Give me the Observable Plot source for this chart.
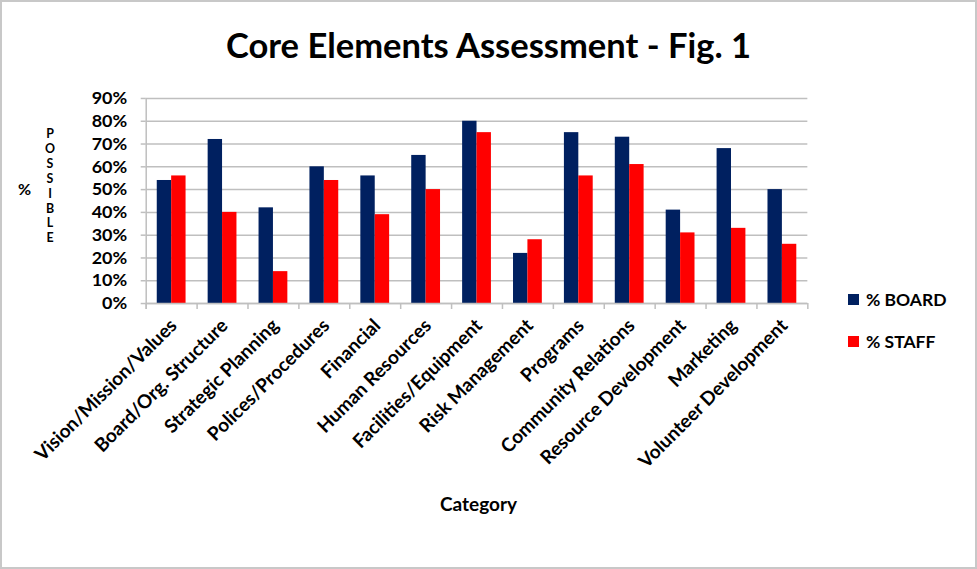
<!DOCTYPE html>
<html>
<head>
<meta charset="utf-8">
<script src="https://cdn.jsdelivr.net/npm/d3@7"></script>
<script src="https://cdn.jsdelivr.net/npm/@observablehq/plot@0.6"></script>
<style>
  html, body { margin: 0; padding: 0; background: #fff; }
  #chart { position: relative; width: 977px; height: 569px; box-sizing: border-box; border: 2px solid #c8c8c8; overflow: hidden; font-family: Lato, "Open Sans", sans-serif; font-weight: bold; color: #000; }
  #title { position: absolute; left: 0; top: 21px; width: 973px; text-align: center; font-size: 34.5px; line-height: 44px; }
  #plot { position: absolute; left: -2px; top: 78px; }
  .ylab { position: absolute; font-size: 16px; }
  #pct { left: 16px; top: 177px; }
  #possible { left: 41px; top: 125px; width: 14px; text-align: center; line-height: 14.9px; font-size: 12.4px; }
  #xlab { position: absolute; left: 0; width: 953px; top: 490px; text-align: center; font-size: 19px; }
  .leg { position: absolute; left: 846px; font-size: 17.5px; line-height: 20px; white-space: nowrap; }
  .leg span.sw { display: inline-block; width: 11px; height: 11px; margin-right: 7px; vertical-align: 1px; }
</style>
</head>
<body>
<div id="chart">
  <div id="title">Core Elements Assessment - Fig. 1</div>
  <div id="pct" class="ylab">%</div>
  <div id="possible" class="ylab">P<br>O<br>S<br>S<br>I<br>B<br>L<br>E</div>
  <div id="plot"></div>
  <div id="xlab">Category</div>
  <div class="leg" style="top:288px"><span class="sw" style="background:#002060"></span>% BOARD</div>
  <div class="leg" style="top:330px"><span class="sw" style="background:#ff0000"></span>% STAFF</div>
</div>
<script>
const categories = ["Vision/Mission/Values", "Board/Org. Structure", "Strategic Planning", "Polices/Procedures", "Financial", "Human Resources", "Facilities/Equipment", "Risk Management", "Programs", "Community Relations", "Resource Development", "Marketing", "Volunteer Development"];
const board = [0.54, 0.72, 0.42, 0.60, 0.56, 0.65, 0.80, 0.22, 0.75, 0.73, 0.41, 0.68, 0.50];
const staff = [0.56, 0.40, 0.14, 0.54, 0.39, 0.50, 0.75, 0.28, 0.56, 0.61, 0.31, 0.33, 0.26];
const series = ["% BOARD", "% STAFF"];
const colors = ["#002060", "#ff0000"];
const yTicks = [0, 0.1, 0.2, 0.3, 0.4, 0.5, 0.6, 0.7, 0.8, 0.9];

const rowsBoard = categories.map((c, i) => ({category: c, series: series[0], value: board[i]}));
const rowsStaff = categories.map((c, i) => ({category: c, series: series[1], value: staff[i]}));

const W = 977, H = 460, mL = 146, mR = 168, mT = 18, mB = 236.5;
const bw = (W - mL - mR) / categories.length;
const barW = bw * 0.283;
const grid = "#bfbfbf";

const chart = Plot.plot({
  width: W, height: H,
  marginLeft: mL, marginRight: mR, marginTop: mT, marginBottom: mB,
  style: {fontFamily: "Lato, 'Open Sans', sans-serif", fontWeight: "bold", fontSize: "18px", color: "#000", background: "transparent", overflow: "visible"},
  x: {type: "band", domain: categories, padding: 0},
  y: {domain: [0, 0.9]},
  color: {domain: series, range: colors},
  marks: [
    Plot.gridY(yTicks, {stroke: grid, strokeOpacity: 1, strokeWidth: 1.5}),
    Plot.barY(rowsBoard, {x: "category", y: "value", fill: "series", insetLeft: bw / 2 - barW, insetRight: bw / 2}),
    Plot.barY(rowsStaff, {x: "category", y: "value", fill: "series", insetLeft: bw / 2, insetRight: bw / 2 - barW}),
    Plot.ruleY([0], {stroke: grid, strokeWidth: 1.5}),
    Plot.ruleX([categories[0]], {stroke: grid, strokeWidth: 1.5, dx: -bw / 2, insetBottom: -6}),
    Plot.ruleX(categories, {x: d => d, y1: 0, y2: 0, insetBottom: -6, dx: -bw / 2, stroke: grid, strokeWidth: 1.5}),
    Plot.ruleX([categories[categories.length - 1]], {y1: 0, y2: 0, insetBottom: -6, dx: bw / 2, stroke: grid, strokeWidth: 1.5}),
    Plot.axisY({ticks: yTicks, tickFormat: d3.format(".0%"), tickSize: 5, tickPadding: 14, stroke: grid, strokeWidth: 1.5, fill: "#000", label: null}),
    Plot.axisX({tickSize: 0, tickRotate: -45, tickPadding: 19, dx: 2, fill: "#000", fontSize: 19, label: null})
  ]
});
document.getElementById("plot").appendChild(chart);
</script>
</body>
</html>
